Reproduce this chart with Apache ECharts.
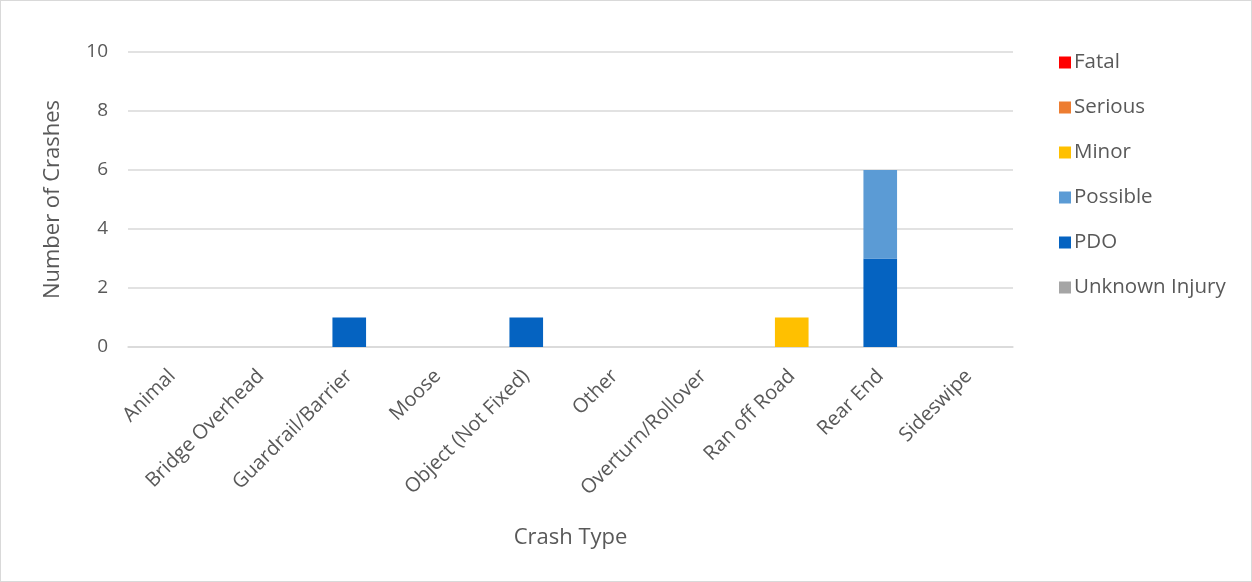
<!DOCTYPE html>
<html>
<head>
<meta charset="utf-8">
<script src="https://cdn.jsdelivr.net/npm/echarts@6/dist/echarts.min.js"></script>
<style>
html,body{margin:0;padding:0;background:#fff;}
#c{width:1250px;height:580px;border:1px solid #d9d9d9;}
</style>
</head>
<body>
<div id="c"></div>
<script>
const categories = ["Animal","Bridge Overhead","Guardrail/Barrier","Moose","Object (Not Fixed)","Other","Overturn/Rollover","Ran off Road","Rear End","Sideswipe"];
const fatal    = [0,0,0,0,0,0,0,0,0,0];
const serious  = [0,0,0,0,0,0,0,0,0,0];
const minor    = [0,0,0,0,0,0,0,1,0,0];
const possible = [0,0,0,0,0,0,0,0,3,0];
const pdo      = [0,0,1,0,1,0,0,0,3,0];
const unknown  = [0,0,0,0,0,0,0,0,0,0];
const legendOrder = ["Fatal","Serious","Minor","Possible","PDO","Unknown Injury"];

const font = "'Open Sans', sans-serif";
const gray = "#595959";
const chart = echarts.init(document.getElementById('c'));
function s(name, data, color){
  return {name, type:'bar', stack:'total', data, barWidth:'38%',
    itemStyle:{color}, emphasis:{disabled:true}};
}
chart.setOption({
  animation:false,
  textStyle:{fontFamily:font},
  grid:{left:127, right:238, top:51, bottom:234, containLabel:false},
  legend:{
    orient:'vertical', left:1053, top:46, itemGap:24, itemWidth:12, itemHeight:12,
    icon:'rect', data:legendOrder,
    textStyle:{fontFamily:font, fontSize:20.5, color:gray, padding:[0,0,0,-2]}
  },
  xAxis:{
    type:'category', data:categories,
    name:'Crash Type', nameLocation:'middle', nameGap:180,
    nameTextStyle:{fontFamily:font, fontSize:22, color:gray},
    axisTick:{show:false},
    axisLine:{lineStyle:{color:'#d9d9d9', width:1.5}},
    axisLabel:{rotate:45, interval:0, fontFamily:font, fontSize:20, color:gray, margin:26}
  },
  yAxis:{
    type:'value', min:0, max:10, interval:2,
    name:'Number of Crashes', nameLocation:'middle', nameGap:64,
    nameTextStyle:{fontFamily:font, fontSize:22, color:gray},
    axisLine:{show:false}, axisTick:{show:false},
    splitLine:{lineStyle:{color:'#d9d9d9', width:1.5}},
    axisLabel:{fontFamily:font, fontSize:19, color:gray, margin:20}
  },
  series:[
    s('Unknown Injury', unknown, '#A5A5A5'),
    s('PDO', pdo, '#0563C1'),
    s('Possible', possible, '#5B9BD5'),
    s('Minor', minor, '#FFC000'),
    s('Serious', serious, '#ED7D31'),
    s('Fatal', fatal, '#FF0000')
  ]
});
</script>
</body>
</html>
